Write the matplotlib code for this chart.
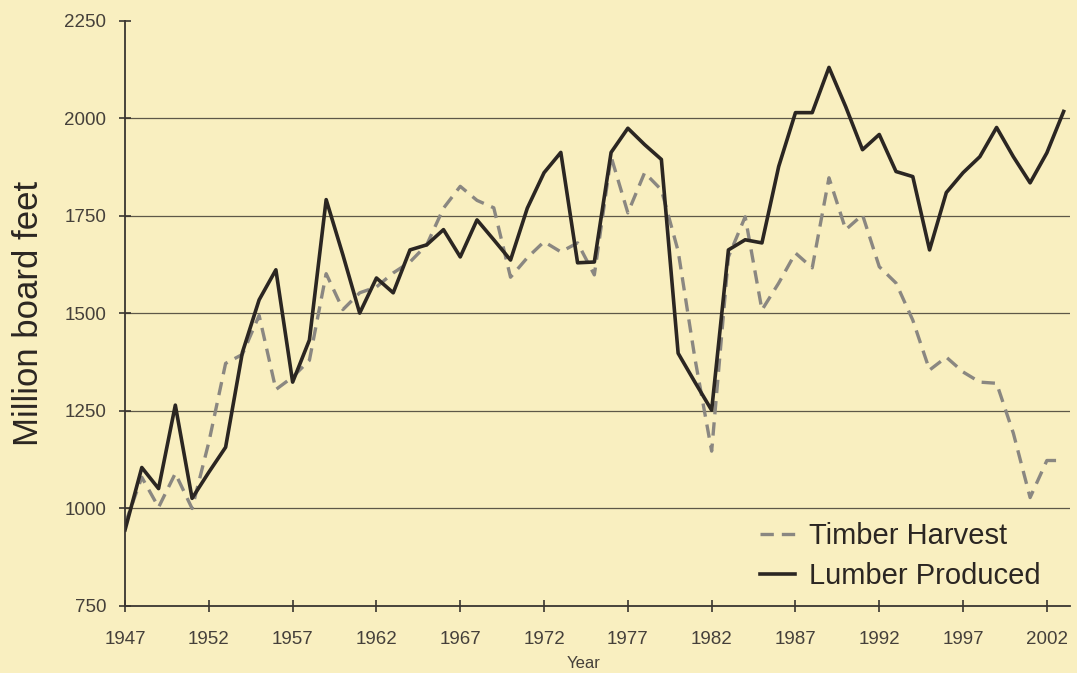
import matplotlib
matplotlib.use('Agg')
from matplotlib import pyplot as plt

years = list(range(1947, 2004))

timber_harvest = [
    960, 1080, 1003, 1090, 1000, 1170, 1372, 1395, 1495, 1305,
    1337, 1380, 1602, 1510, 1553, 1568, 1604, 1632, 1676, 1770,
    1826, 1790, 1771, 1593, 1643, 1684, 1658, 1681, 1599, 1902,
    1758, 1861, 1817, 1660, 1385, 1147, 1645, 1748, 1509, 1578,
    1655, 1617, 1848, 1715, 1753, 1620, 1578, 1483, 1355, 1388,
    1350, 1324, 1321, 1193, 1028, 1123, 1123,
]

lumber_produced = [
    945, 1105, 1051, 1265, 1026, 1093, 1157, 1400, 1535, 1612,
    1324, 1432, 1792, 1650, 1501, 1591, 1553, 1663, 1676, 1715,
    1645, 1740, 1689, 1637, 1770, 1861, 1913, 1630, 1632, 1913,
    1975, 1933, 1895, 1398, 1324, 1252, 1663, 1689, 1681, 1877,
    2015, 2015, 2131, 2030, 1920, 1959, 1864, 1851, 1663, 1810,
    1861, 1902, 1977, 1902, 1835, 1912, 2018,
]

y_ticks = [750, 1000, 1250, 1500, 1750, 2000, 2250]
x_ticks = list(range(1947, 2003, 5))

BG = '#f9efc0'
DARK = '#2b2622'
GREY = '#8a8781'
AXIS = '#3a3530'

plt.rcParams['font.family'] = 'Liberation Sans'

fig = plt.figure(figsize=(10.77, 6.73), dpi=100, facecolor=BG)
ax = fig.add_axes([0.1161, 0.0996, 0.8774, 0.8692])
ax.set_facecolor(BG)

ax.plot(years, timber_harvest, color=GREY, lw=2.4, ls=(0, (4, 2.4)),
        label='Timber Harvest')
ax.plot(years, lumber_produced, color=DARK, lw=2.6, label='Lumber Produced')

ax.set_xlim(1947, 2003.38)
ax.set_ylim(750, 2250)
ax.set_yticks(y_ticks)
ax.set_xticks(x_ticks)

ax.yaxis.grid(True, color='#5e5848', lw=0.9)
gl = ax.yaxis.get_gridlines()
gl[0].set_visible(False)
gl[-1].set_visible(False)
ax.set_axisbelow(True)

for s in ['top', 'right']:
    ax.spines[s].set_visible(False)
for s in ['left', 'bottom']:
    ax.spines[s].set_color(AXIS)
    ax.spines[s].set_linewidth(1.3)

ax.tick_params(axis='y', direction='inout', length=9, width=1.2,
               color=AXIS, labelsize=13.5, labelcolor='#45403a', pad=9)
ax.tick_params(axis='x', direction='inout', length=8, width=1.2,
               color=AXIS, labelsize=13.5, labelcolor='#45403a', pad=14)

ax.set_ylabel('Million board feet', fontsize=25, color=DARK)
ax.yaxis.set_label_coords(-0.0845, 0.5)
ax.set_xlabel('Year', fontsize=12, color='#45403a')
ax.xaxis.set_label_coords(0.485, -0.085)

leg = ax.legend(loc='lower right', bbox_to_anchor=(0.99, -0.008), frameon=False,
                fontsize=21, handlelength=1.2, handletextpad=0.45,
                labelspacing=0.42, borderaxespad=0.3)
for t in leg.get_texts():
    t.set_color(DARK)

fig.savefig('out.png', dpi=100, facecolor=BG)
